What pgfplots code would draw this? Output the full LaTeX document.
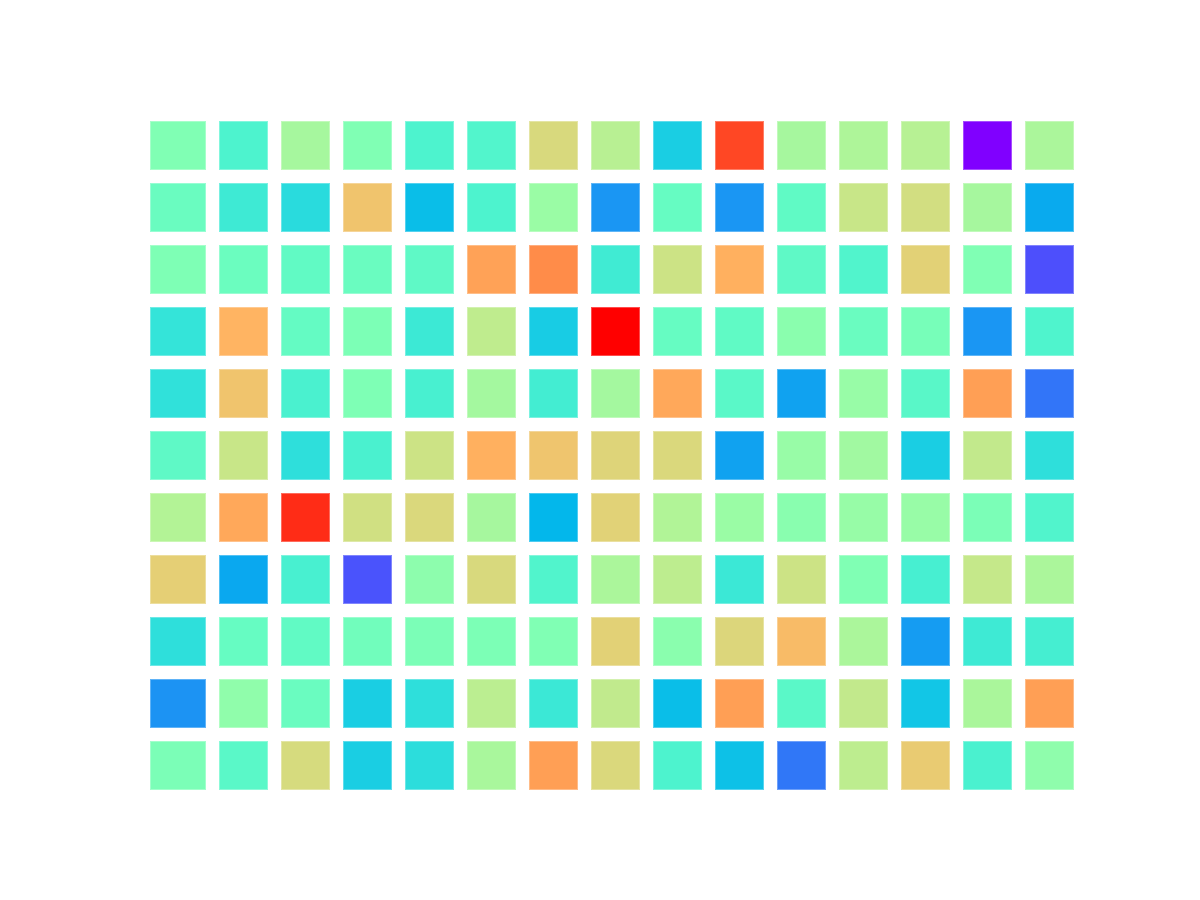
\documentclass[border=0pt]{standalone}
\usepackage{pgfplots}
\pgfplotsset{compat=1.18}
\begin{document}
\begin{tikzpicture}
\fill[white] (0,0) rectangle (12cm,9cm);
\pgfplotsset{
  colormap={mplrainbow}{
    rgb255=(128,0,255) rgb255=(102,40,254) rgb255=(77,79,252) rgb255=(51,116,248)
    rgb255=(26,150,243) rgb255=(0,180,236) rgb255=(26,206,227) rgb255=(51,227,217)
    rgb255=(77,243,206) rgb255=(102,252,194) rgb255=(128,255,180) rgb255=(153,252,166)
    rgb255=(179,243,150) rgb255=(204,227,133) rgb255=(230,206,116) rgb255=(255,180,98)
    rgb255=(255,150,79) rgb255=(255,116,60) rgb255=(255,79,40) rgb255=(255,40,20)
    rgb255=(255,0,0)},
  cell/.style={scatter, only marks, mark=square*, mark size=6.85pt,
    point meta=explicit,
    scatter/use mapped color={draw=mapped color!70!white, fill=mapped color},
    mark options={line width=0.3pt}}
}
\begin{axis}[
  at={(1.5cm,0.99cm)}, anchor=south west,
  width=9.3cm, height=6.93cm, scale only axis,
  hide axis,
  xmin=-0.508, xmax=14.492,
  ymin=-0.605, ymax=10.573,
  y dir=reverse,
  point meta min=0, point meta max=1,
]
% first column (wider cells)
\addplot[cell, mark options={xscale=1.15, line width=0.3pt}] table[row sep=\\, meta=c] {
x y c\\
-0.053 0 0.50\\ -0.053 1 0.458\\ -0.053 2 0.497\\ -0.053 3 0.352\\
-0.053 4 0.344\\ -0.053 5 0.435\\ -0.053 6 0.60\\ -0.053 7 0.697\\
-0.053 8 0.34\\ -0.053 9 0.195\\ -0.053 10 0.49\\
};
% remaining columns
\addplot[cell] table[row sep=\\, meta=c] {
x y c\\
1 0 0.40\\ 2 0 0.575\\ 3 0 0.50\\ 4 0 0.40\\ 5 0 0.41\\ 6 0 0.673\\ 7 0 0.61\\
8 0 0.30\\ 9 0 0.91\\ 10 0 0.575\\ 11 0 0.59\\ 12 0 0.607\\ 13 0 0.0\\ 14 0 0.585\\
1 1 0.372\\ 2 1 0.33\\ 3 1 0.72\\ 4 1 0.27\\ 5 1 0.40\\ 6 1 0.552\\ 7 1 0.20\\
8 1 0.45\\ 9 1 0.20\\ 10 1 0.438\\ 11 1 0.642\\ 12 1 0.662\\ 13 1 0.575\\ 14 1 0.233\\
1 2 0.46\\ 2 2 0.44\\ 3 2 0.458\\ 4 2 0.435\\ 5 2 0.78\\ 6 2 0.815\\ 7 2 0.375\\
8 2 0.65\\ 9 2 0.757\\ 10 2 0.435\\ 11 2 0.407\\ 12 2 0.693\\ 13 2 0.50\\ 14 2 0.10\\
1 3 0.75\\ 2 3 0.446\\ 3 3 0.493\\ 4 3 0.368\\ 5 3 0.623\\ 6 3 0.297\\ 7 3 1.0\\
8 3 0.45\\ 9 3 0.438\\ 10 3 0.52\\ 11 3 0.458\\ 12 3 0.483\\ 13 3 0.20\\ 14 3 0.404\\
1 4 0.72\\ 2 4 0.395\\ 3 4 0.497\\ 4 4 0.39\\ 5 4 0.572\\ 6 4 0.38\\ 7 4 0.572\\
8 4 0.77\\ 9 4 0.426\\ 10 4 0.22\\ 11 4 0.548\\ 12 4 0.423\\ 13 4 0.785\\ 14 4 0.152\\
1 5 0.642\\ 2 5 0.34\\ 3 5 0.395\\ 4 5 0.65\\ 5 5 0.757\\ 6 5 0.717\\ 7 5 0.685\\
8 5 0.677\\ 9 5 0.22\\ 10 5 0.548\\ 11 5 0.565\\ 12 5 0.30\\ 13 5 0.63\\ 14 5 0.34\\
1 6 0.77\\ 2 6 0.945\\ 3 6 0.658\\ 4 6 0.677\\ 5 6 0.575\\ 6 6 0.255\\ 7 6 0.69\\
8 6 0.596\\ 9 6 0.552\\ 10 6 0.517\\ 11 6 0.545\\ 12 6 0.548\\ 13 6 0.49\\ 14 6 0.407\\
1 7 0.23\\ 2 7 0.39\\ 3 7 0.105\\ 4 7 0.525\\ 5 7 0.673\\ 6 7 0.407\\ 7 7 0.585\\
8 7 0.62\\ 9 7 0.365\\ 10 7 0.65\\ 11 7 0.50\\ 12 7 0.388\\ 13 7 0.635\\ 14 7 0.585\\
1 8 0.45\\ 2 8 0.44\\ 3 8 0.472\\ 4 8 0.49\\ 5 8 0.493\\ 6 8 0.50\\ 7 8 0.693\\
8 8 0.52\\ 9 8 0.68\\ 10 8 0.736\\ 11 8 0.585\\ 12 8 0.21\\ 13 8 0.372\\ 14 8 0.385\\
1 9 0.532\\ 2 9 0.458\\ 3 9 0.30\\ 4 9 0.34\\ 5 9 0.615\\ 6 9 0.365\\ 7 9 0.627\\
8 9 0.27\\ 9 9 0.785\\ 10 9 0.426\\ 11 9 0.63\\ 12 9 0.285\\ 13 9 0.583\\ 14 9 0.785\\
1 10 0.426\\ 2 10 0.67\\ 3 10 0.30\\ 4 10 0.335\\ 5 10 0.58\\ 6 10 0.785\\ 7 10 0.677\\
8 10 0.40\\ 9 10 0.275\\ 10 10 0.155\\ 11 10 0.62\\ 12 10 0.705\\ 13 10 0.395\\ 14 10 0.53\\
};
\end{axis}
\end{tikzpicture}
\end{document}
